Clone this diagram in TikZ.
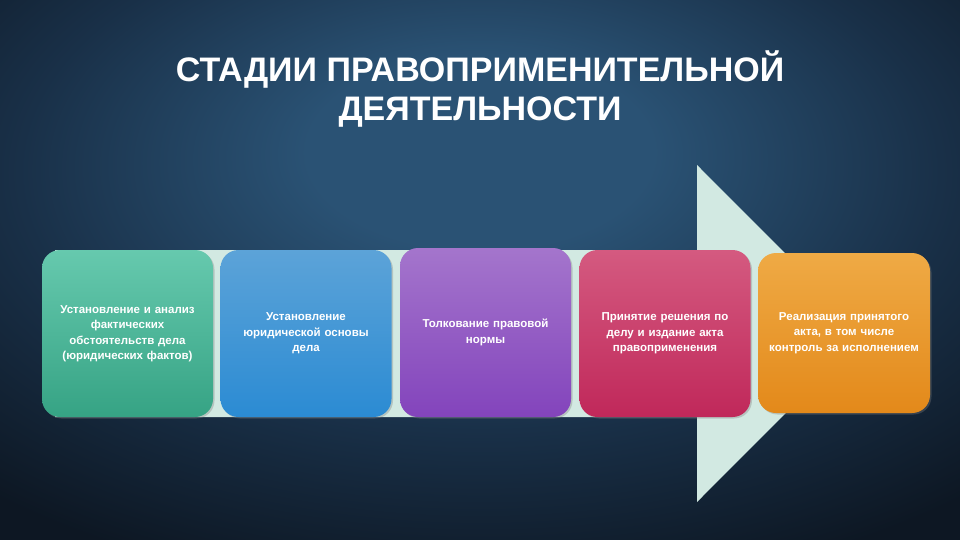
\documentclass[tikz,border=0pt]{standalone}
\usepackage{fontspec}
\setmainfont{Liberation Sans}
\usepackage{xcolor}
\usetikzlibrary{shadows}

\definecolor{bgmid}{HTML}{2A5274}
\definecolor{bgring}{HTML}{193048}
\definecolor{bgedge}{HTML}{0D1723}
\definecolor{arrowmint}{HTML}{D2E9E2}
\pgfdeclareradialshading{slidebg}{\pgfpoint{0bp}{12bp}}{color(0bp)=(bgmid); color(9bp)=(bgmid); color(24bp)=(bgring); color(38bp)=(bgedge); color(100bp)=(bgedge)}

\begin{document}
\begin{tikzpicture}[
					x=1pt, y=-1pt,
					stage box/.style={rounded corners=18pt, minimum width=171pt, minimum height=167pt,
						inner sep=0pt, text=white, align=center, text width=160pt,
						font=\bfseries\fontsize{11.5}{15.5}\selectfont,
						drop shadow={opacity=0.35, shadow xshift=1.5pt, shadow yshift=-1.5pt}},
					slide title/.style={align=center, text=white, font=\bfseries\fontsize{34}{39}\selectfont},
				]
					% background
					\shade[shading=slidebg] (0,0) rectangle (960,540);
					\useasboundingbox (0,0) rectangle (960,540);

					% big arrow behind the stages
					\fill[arrowmint] (55,250) -- (697,250) -- (697,165) -- (865,333.5)
						-- (697,502) -- (697,417) -- (55,417) -- cycle;

					\node[slide title] (title) at (480,89) {СТАДИИ ПРАВОПРИМЕНИТЕЛЬНОЙ\\ДЕЯТЕЛЬНОСТИ};

					\node[stage box, top color={rgb,255:red,102;green,201;blue,174}, bottom color={rgb,255:red,54;green,163;blue,132}]
						(facts) at (127.5,333.5) {Установление и анализ\\фактических\\обстоятельств дела\\(юридических фактов)};
					\node[stage box, top color={rgb,255:red,92;green,163;blue,216}, bottom color={rgb,255:red,43;green,139;blue,211}]
						(basis) at (306,333.5) {Установление\\юридической основы\\дела};
					\node[stage box, top color={rgb,255:red,164;green,117;blue,204}, bottom color={rgb,255:red,131;green,68;blue,188}, minimum height=169pt]
						(interp) at (485.5,332.5) {Толкование правовой\\нормы};
					\node[stage box, top color={rgb,255:red,212;green,90;blue,128}, bottom color={rgb,255:red,192;green,40;blue,90}]
						(decision) at (665,333.5) {Принятие решения по\\делу и издание акта\\правоприменения};
					\node[stage box, top color={rgb,255:red,239;green,170;blue,69}, bottom color={rgb,255:red,227;green,137;blue,26}, minimum width=172pt, minimum height=160pt]
						(control) at (844,333) {Реализация принятого\\акта, в том числе\\контроль за исполнением};
				\end{tikzpicture}
\end{document}
